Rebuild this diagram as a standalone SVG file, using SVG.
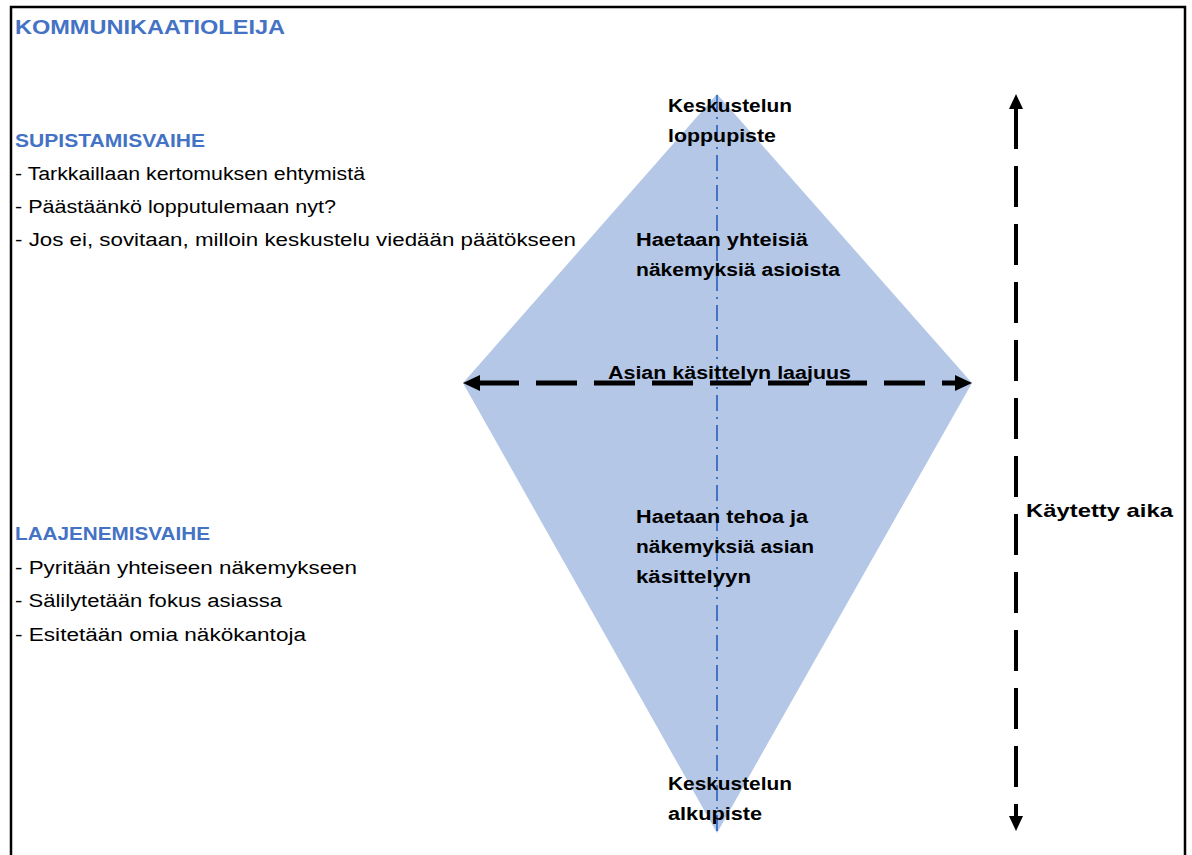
<svg xmlns="http://www.w3.org/2000/svg" width="1192" height="855" viewBox="0 0 1192 855">
<style>
.h{font-family:"Liberation Sans",Arial,sans-serif;font-weight:bold;fill:#4472C4;font-size:18px}
.b{font-family:"Liberation Sans",Arial,sans-serif;fill:#000;font-size:18px}
.l{font-family:"Liberation Sans",Arial,sans-serif;font-weight:bold;fill:#000;font-size:18px}
</style>
<rect width="1192" height="855" fill="#fff"/>
<path d="M11 855 V7 H1185 V855" fill="none" stroke="#000" stroke-width="2.5"/>
<g id="title"><text class="h" x="15" y="34" textLength="270" lengthAdjust="spacingAndGlyphs" style="font-size:20px">KOMMUNIKAATIOLEIJA</text></g>
<g id="supistamisvaihe">
<text class="h" x="15" y="147" textLength="190" lengthAdjust="spacingAndGlyphs">SUPISTAMISVAIHE</text>
<text class="b" x="15" y="180" textLength="350" lengthAdjust="spacingAndGlyphs">- Tarkkaillaan kertomuksen ehtymistä</text>
<text class="b" x="15" y="213" textLength="321" lengthAdjust="spacingAndGlyphs">- Päästäänkö lopputulemaan nyt?</text>
<text class="b" x="15" y="246" textLength="561" lengthAdjust="spacingAndGlyphs">- Jos ei, sovitaan, milloin keskustelu viedään päätökseen</text>
</g>
<g id="laajenemisvaihe">
<text class="h" x="15" y="540" textLength="195" lengthAdjust="spacingAndGlyphs">LAAJENEMISVAIHE</text>
<text class="b" x="15" y="574" textLength="342" lengthAdjust="spacingAndGlyphs">- Pyritään yhteiseen näkemykseen</text>
<text class="b" x="15" y="607" textLength="267" lengthAdjust="spacingAndGlyphs">- Sälilytetään fokus asiassa</text>
<text class="b" x="15" y="641" textLength="291" lengthAdjust="spacingAndGlyphs">- Esitetään omia näkökantoja</text>
</g>
<g id="diamond">
<polygon points="717,94 972,383 717,833 463,383" fill="#B4C7E7"/>
</g>
<g id="connectors">
<line x1="717" y1="95" x2="717" y2="833" stroke="#4472C4" stroke-width="2" stroke-dasharray="16 6 2 6"/>
<line x1="478" y1="383" x2="958" y2="383" stroke="#000" stroke-width="5" stroke-dasharray="41 17"/>
<polygon points="463,383 480,375 480,391" fill="#000"/>
<polygon points="972,383 955,375 955,391" fill="#000"/>
<line x1="1016" y1="108" x2="1016" y2="818" stroke="#000" stroke-width="4" stroke-dasharray="41 17"/>
<polygon points="1016,94 1009,109 1023,109" fill="#000"/>
<polygon points="1016,831 1009,816 1023,816" fill="#000"/>
</g>
<g id="labels">
<text class="l" x="668" y="112" textLength="124" lengthAdjust="spacingAndGlyphs">Keskustelun</text>
<text class="l" x="668" y="142" textLength="108" lengthAdjust="spacingAndGlyphs">loppupiste</text>
<text class="l" x="636" y="246" textLength="172" lengthAdjust="spacingAndGlyphs">Haetaan yhteisiä</text>
<text class="l" x="636" y="276" textLength="204" lengthAdjust="spacingAndGlyphs">näkemyksiä asioista</text>
<text class="l" x="608" y="379" textLength="243" lengthAdjust="spacingAndGlyphs">Asian käsittelyn laajuus</text>
<text class="l" x="636" y="523" textLength="172" lengthAdjust="spacingAndGlyphs">Haetaan tehoa ja</text>
<text class="l" x="636" y="553" textLength="178" lengthAdjust="spacingAndGlyphs">näkemyksiä asian</text>
<text class="l" x="636" y="583" textLength="115" lengthAdjust="spacingAndGlyphs">käsittelyyn</text>
<text class="l" x="668" y="790" textLength="124" lengthAdjust="spacingAndGlyphs">Keskustelun</text>
<text class="l" x="668" y="820" textLength="94" lengthAdjust="spacingAndGlyphs">alkupiste</text>
<text class="l" x="1026" y="517" textLength="147" lengthAdjust="spacingAndGlyphs" style="font-size:19px">Käytetty aika</text>
</g>
</svg>
